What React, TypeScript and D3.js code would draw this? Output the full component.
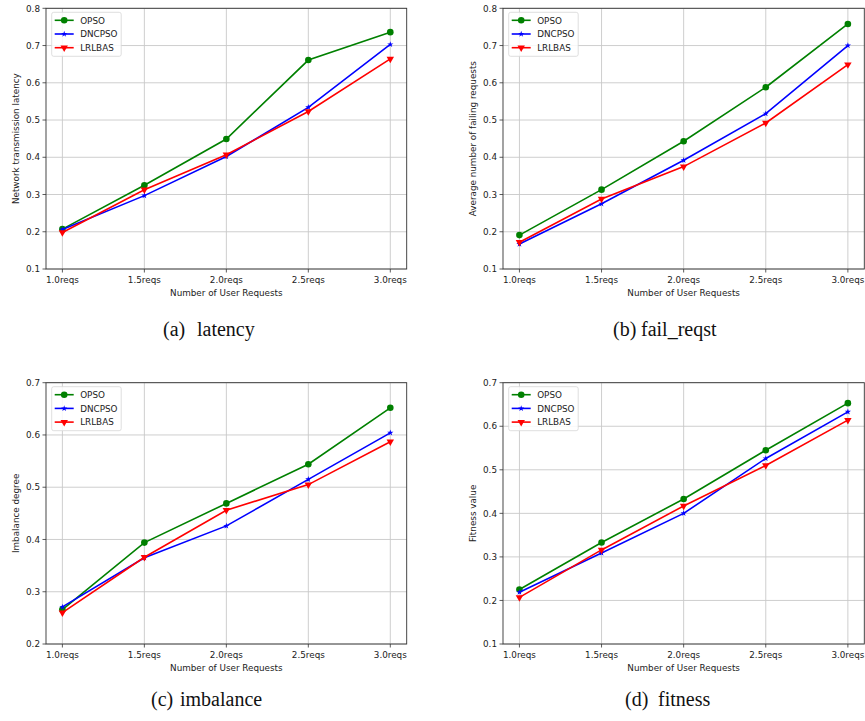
import React from 'react';
import * as d3 from 'd3';

const categories = ['1.0reqs', '1.5reqs', '2.0reqs', '2.5reqs', '3.0reqs'];
const seriesNames = ['OPSO', 'DNCPSO', 'LRLBAS'];
const seriesColors = ['#008000', '#0000ff', '#ff0000'];

// values, one array per series per panel
const latencyOPSO = [0.207, 0.325, 0.449, 0.661, 0.736];
const latencyDNCPSO = [0.206, 0.297, 0.402, 0.534, 0.703];
const latencyLRLBAS = [0.198, 0.313, 0.407, 0.523, 0.664];

const failOPSO = [0.191, 0.313, 0.443, 0.588, 0.758];
const failDNCPSO = [0.167, 0.275, 0.392, 0.517, 0.700];
const failLRLBAS = [0.172, 0.288, 0.375, 0.492, 0.649];

const imbalanceOPSO = [0.266, 0.394, 0.469, 0.544, 0.652];
const imbalanceDNCPSO = [0.271, 0.365, 0.426, 0.515, 0.604];
const imbalanceLRLBAS = [0.260, 0.366, 0.456, 0.505, 0.587];

const fitnessOPSO = [0.225, 0.333, 0.433, 0.545, 0.653];
const fitnessDNCPSO = [0.219, 0.309, 0.400, 0.526, 0.633];
const fitnessLRLBAS = [0.207, 0.316, 0.417, 0.510, 0.614];

const ticksA = [0.1, 0.2, 0.3, 0.4, 0.5, 0.6, 0.7, 0.8];
const ticksC = [0.2, 0.3, 0.4, 0.5, 0.6, 0.7];
const ticksD = [0.1, 0.2, 0.3, 0.4, 0.5, 0.6, 0.7];

const panels = [
  {
    box: { left: 46, right: 406.7, top: 8.3, bottom: 269 },
    yDomain: [0.1, 0.8], yTicks: ticksA,
    yLabel: 'Network transmission latency', yLabelX: 16,
    series: [latencyOPSO, latencyDNCPSO, latencyLRLBAS],
    tag: '(a)', caption: 'latency', capX: 163, capWordX: 197, capY: 336
  },
  {
    box: { left: 503, right: 864.3, top: 8.3, bottom: 269 },
    yDomain: [0.1, 0.8], yTicks: ticksA,
    yLabel: 'Average number of failing requests', yLabelX: 472.7,
    series: [failOPSO, failDNCPSO, failLRLBAS],
    tag: '(b)', caption: 'fail_reqst', capX: 613, capWordX: 641, capY: 336
  },
  {
    box: { left: 46, right: 406.7, top: 382.7, bottom: 644 },
    yDomain: [0.2, 0.7], yTicks: ticksC,
    yLabel: 'Imbalance degree', yLabelX: 16,
    series: [imbalanceOPSO, imbalanceDNCPSO, imbalanceLRLBAS],
    tag: '(c)', caption: 'imbalance', capX: 151, capWordX: 180, capY: 706
  },
  {
    box: { left: 503, right: 864.3, top: 382.7, bottom: 644 },
    yDomain: [0.1, 0.7], yTicks: ticksD,
    yLabel: 'Fitness value', yLabelX: 472.7,
    series: [fitnessOPSO, fitnessDNCPSO, fitnessLRLBAS],
    tag: '(d)', caption: 'fitness', capX: 625, capWordX: 658, capY: 706
  }
];

const font = 'DejaVu Sans, sans-serif';
const ink = '#222';

function Marker({ kind, x, y, color }) {
  if (kind === 0) return <circle cx={x} cy={y} r={3.3} fill={color} />;
  if (kind === 1) {
    const p = d3.symbol().type(d3.symbolStar).size(12)();
    return <path d={p} transform={`translate(${x},${y})`} fill={color} />;
  }
  const p = d3.symbol().type(d3.symbolTriangle).size(24)();
  return <path d={p} transform={`translate(${x},${y}) rotate(180)`} fill={color} />;
}

function Panel({ cfg }) {
  const { box } = cfg;
  const x = d3.scalePoint().domain(categories).range([box.left, box.right]).padding(0.2);
  const y = d3.scaleLinear().domain(cfg.yDomain).range([box.bottom, box.top]);
  const line = d3.line().x((d, i) => x(categories[i])).y(d => y(d));
  const midX = (box.left + box.right) / 2;
  const midY = (box.top + box.bottom) / 2;
  const lg = { x: box.left + 5.7, y: box.top + 4 };

  return (
    <g>
      {/* grid */}
      {categories.map(c => (
        <line key={c} x1={x(c)} x2={x(c)} y1={box.top} y2={box.bottom} stroke="#c8c8c8" strokeWidth={0.9} />
      ))}
      {cfg.yTicks.map(t => (
        <line key={t} x1={box.left} x2={box.right} y1={y(t)} y2={y(t)} stroke="#c8c8c8" strokeWidth={0.9} />
      ))}
      {/* series */}
      {cfg.series.map((vals, si) => (
        <g key={si}>
          <path d={line(vals)} fill="none" stroke={seriesColors[si]} strokeWidth={1.6} />
          {vals.map((v, i) => (
            <Marker key={i} kind={si} x={x(categories[i])} y={y(v)} color={seriesColors[si]} />
          ))}
        </g>
      ))}
      {/* frame */}
      <rect x={box.left} y={box.top} width={box.right - box.left} height={box.bottom - box.top}
        fill="none" stroke="#333" strokeWidth={0.9} />
      {/* ticks */}
      {categories.map(c => (
        <g key={c}>
          <line x1={x(c)} x2={x(c)} y1={box.bottom} y2={box.bottom + 3.5} stroke="#333" strokeWidth={0.8} />
          <text x={x(c)} y={box.bottom + 13.5} textAnchor="middle" fontFamily={font} fontSize={8.8} fill={ink}>{c}</text>
        </g>
      ))}
      {cfg.yTicks.map(t => (
        <g key={t}>
          <line x1={box.left - 3.5} x2={box.left} y1={y(t)} y2={y(t)} stroke="#333" strokeWidth={0.8} />
          <text x={box.left - 6} y={y(t) + 3.2} textAnchor="end" fontFamily={font} fontSize={8.8} fill={ink}>{t.toFixed(1)}</text>
        </g>
      ))}
      <text x={midX} y={box.bottom + 26.5} textAnchor="middle" fontFamily={font} fontSize={8.8} fill={ink}>Number of User Requests</text>
      <text transform={`translate(${cfg.yLabelX + 3},${midY}) rotate(-90)`} textAnchor="middle" fontFamily={font} fontSize={8.8} fill={ink}>{cfg.yLabel}</text>
      {/* legend */}
      <rect x={lg.x} y={lg.y} width={69.5} height={44} rx={2} fill="#fff" fillOpacity={0.85} stroke="#d6d6d6" strokeWidth={0.8} />
      {seriesNames.map((n, i) => {
        const ly = lg.y + 8 + i * 13.7;
        return (
          <g key={n}>
            <line x1={lg.x + 3} x2={lg.x + 22} y1={ly} y2={ly} stroke={seriesColors[i]} strokeWidth={1.6} />
            <Marker kind={i} x={lg.x + 12.5} y={ly} color={seriesColors[i]} />
            <text x={lg.x + 28.5} y={ly + 3.2} fontFamily={font} fontSize={8.8} fill={ink}>{n}</text>
          </g>
        );
      })}
      {/* caption */}
      <text x={cfg.capX} y={cfg.capY} fontFamily="Liberation Serif, serif" fontSize={20} fill="#111">{cfg.tag}</text>
      <text x={cfg.capWordX} y={cfg.capY} fontFamily="Liberation Serif, serif" fontSize={20} fill="#111">{cfg.caption}</text>
    </g>
  );
}

export default function App() {
  return (
    <svg width={865} height={721} style={{ position: 'absolute', left: 0, top: 0, background: '#fff' }}>
      <rect width={865} height={721} fill="#fff" />
      {panels.map((p, i) => <Panel key={i} cfg={p} />)}
    </svg>
  );
}
